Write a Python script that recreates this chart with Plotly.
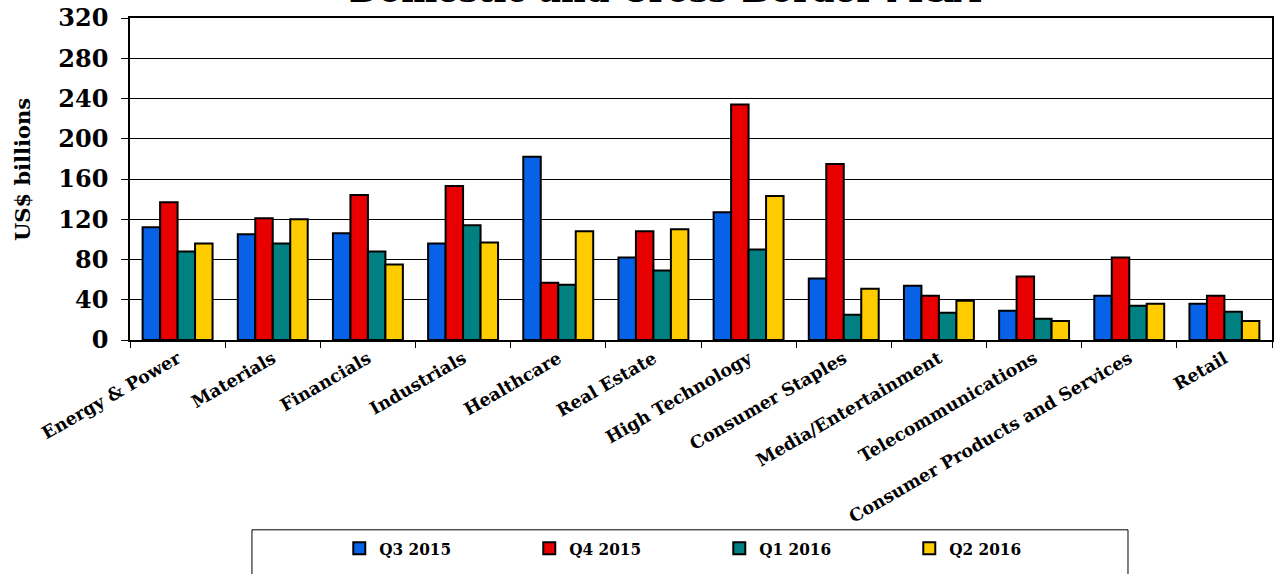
import plotly.graph_objects as go

# Deal value by sector, US$ billions
sectors = [
    "Energy & Power", "Materials", "Financials", "Industrials", "Healthcare",
    "Real Estate", "High Technology", "Consumer Staples", "Media/Entertainment",
    "Telecommunications", "Consumer Products and Services", "Retail",
]
q3_2015 = [112, 105, 106, 96, 182, 82, 127, 61, 54, 29, 44, 36]
q4_2015 = [137, 121, 144, 153, 57, 108, 234, 175, 44, 63, 82, 44]
q1_2016 = [88, 96, 88, 114, 55, 69, 90, 25, 27, 21, 34, 28]
q2_2016 = [96, 120, 75, 97, 108, 110, 143, 51, 39, 19, 36, 19]

series_names = ["Q3 2015", "Q4 2015", "Q1 2016", "Q2 2016"]
series_values = [q3_2015, q4_2015, q1_2016, q2_2016]
series_colors = ["#0862E8", "#E80000", "#008080", "#FFCC00"]

y_ticks = [0, 40, 80, 120, 160, 200, 240, 280, 320]

SERIF = "DejaVu Serif"
COND = "DejaVu Serif Condensed, DejaVu Serif"

fig = go.Figure()
for name, vals, col in zip(series_names, series_values, series_colors):
    fig.add_trace(go.Bar(
        x=sectors, y=vals, name=name,
        marker=dict(color=col, line=dict(color="black", width=2)),
    ))

fig.update_layout(
    width=1279, height=574,
    margin=dict(l=130, r=7, t=18, b=232),
    paper_bgcolor="white", plot_bgcolor="white",
    barmode="group", bargap=0.265, bargroupgap=0,
    showlegend=True,
    legend=dict(
        orientation="h", x=0.516, xanchor="center", y=-0.648, yanchor="middle",
        font=dict(family=COND, size=17, color="black", weight="bold"),
        entrywidth=145, entrywidthmode="pixels",
        bgcolor="rgba(0,0,0,0)", borderwidth=0,
        itemclick=False,
    ),
    xaxis=dict(
        type="category", automargin=False,
        tickangle=-30,
        tickfont=dict(family=SERIF, size=17.5, color="black", weight="bold"),
        ticks="outside", ticklen=6, tickcolor="black", tickson="boundaries",
        showline=True, linecolor="black", linewidth=1.5, mirror=True,
        showgrid=False,
    ),
    yaxis=dict(
        range=[0, 320], tickvals=y_ticks, automargin=False,
        tickfont=dict(family=SERIF, size=24, color="black", weight="bold"),
        ticks="outside", ticklen=7, tickcolor="black", ticklabelstandoff=8,
        showline=True, linecolor="black", linewidth=1.5, mirror=True,
        showgrid=True, gridcolor="black", gridwidth=1,
        zeroline=False,
    ),
)

# Chart title, partly above the top of the frame
fig.add_annotation(
    text="Domestic and Cross-Border M&A",
    xref="paper", yref="paper", x=0.4685, y=1.018,
    xanchor="center", yanchor="bottom", showarrow=False,
    font=dict(family=SERIF, size=34, color="black", weight="bold"),
)

# Vertical axis title
fig.add_annotation(
    text="US$ billions",
    xref="paper", yref="paper", x=-0.0946, y=0.531,
    xanchor="center", yanchor="middle", textangle=-90, showarrow=False,
    font=dict(family=SERIF, size=21, color="black", weight="bold"),
)

# Legend frame
fig.add_shape(
    type="rect", xref="paper", yref="paper",
    x0=0.1068, x1=0.8739, y0=-0.75, y1=-0.5895,
    line=dict(color="black", width=1), fillcolor="rgba(0,0,0,0)",
    layer="below",
)

fig.write_html("out.html")
